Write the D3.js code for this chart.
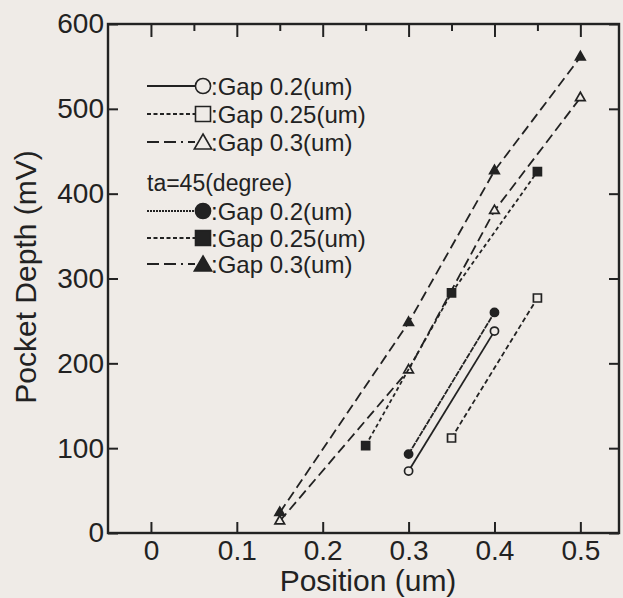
<!DOCTYPE html>
<html>
<head>
<meta charset="utf-8">
<script src="https://cdn.jsdelivr.net/npm/d3@7"></script>
<style>
  body { margin: 0; background: #efebe7; }
  svg { display: block; }
</style>
</head>
<body>
<div id="chart"></div>
<script>
// data
var xTicks = [0, 0.1, 0.2, 0.3, 0.4, 0.5];
var xMinorTicks = [0.05, 0.15, 0.25, 0.35, 0.45];
var yTicks = [0, 100, 200, 300, 400, 500, 600];

var legendLabels = [":Gap 0.2(um)", ":Gap 0.25(um)", ":Gap 0.3(um)"];
var legendTitle = "ta=45(degree)";

var gap02Pos = [0.3, 0.4],              gap02Depth = [73, 238];
var gap025Pos = [0.35, 0.45],           gap025Depth = [112, 277];
var gap03Pos = [0.15, 0.3, 0.4, 0.5],   gap03Depth = [14, 192, 380, 513];
var ta45Gap02Pos = [0.3, 0.4],          ta45Gap02Depth = [93, 260];
var ta45Gap025Pos = [0.25, 0.35, 0.45], ta45Gap025Depth = [103, 283, 426];
var ta45Gap03Pos = [0.15, 0.3, 0.4, 0.5], ta45Gap03Depth = [24, 248, 427, 561];

var width = 623, height = 598;
var ink = "#222", paper = "#efebe7";
var plotL = 108, plotR = 619, plotT = 24, plotB = 533;

var svg = d3.select("#chart").append("svg")
	.attr("width", width)
	.attr("height", height);

var x = d3.scaleLinear().domain([-0.05, 0.545]).range([plotL, plotR]);
var y = d3.scaleLinear().domain([0, 600]).range([plotB, plotT]);

var series = [
	{pos: gap02Pos, depth: gap02Depth, shape: d3.symbolCircle, filled: false, dash: null, legDash: null},
	{pos: gap025Pos, depth: gap025Depth, shape: d3.symbolSquare, filled: false, dash: "5,3", legDash: "4,2.5"},
	{pos: gap03Pos, depth: gap03Depth, shape: d3.symbolTriangle, filled: false, dash: "10,5", legDash: "12,5,12,5,2,5"},
	{pos: ta45Gap02Pos, depth: ta45Gap02Depth, shape: d3.symbolCircle, filled: true, dash: "6,1", legDash: "2,1"},
	{pos: ta45Gap025Pos, depth: ta45Gap025Depth, shape: d3.symbolSquare, filled: true, dash: "4,3", legDash: "4,2.5"},
	{pos: ta45Gap03Pos, depth: ta45Gap03Depth, shape: d3.symbolTriangle, filled: true, dash: "10,5", legDash: "12,5,12,5,2,5"}
];

var smallSize = {circle: 52, square: 64, triangle: 40};
var bigSize = {circle: 180, square: 225, triangle: 130};
function sizeOf(shape, table) {
	if (shape === d3.symbolCircle) return table.circle;
	if (shape === d3.symbolSquare) return table.square;
	return table.triangle;
}

// axes, ticks pointing inward
var fontFam = "'Liberation Sans', Arial, Helvetica, sans-serif";

var xAxis = svg.append("g")
	.attr("transform", "translate(0," + plotB + ")")
	.call(d3.axisBottom(x).tickValues(xTicks).tickSize(-11).tickPadding(27).tickFormat(d3.format("")));

var yAxis = svg.append("g")
	.attr("transform", "translate(" + plotL + ",0)")
	.call(d3.axisLeft(y).tickValues(yTicks).tickSize(-10).tickPadding(5));

svg.append("g")
	.attr("transform", "translate(" + plotR + ",0)")
	.call(d3.axisRight(y).tickValues(yTicks).tickSize(-10).tickFormat(""));

svg.append("g")
	.attr("transform", "translate(0," + plotT + ")")
	.call(d3.axisTop(x).tickValues(xTicks).tickSize(-13).tickFormat(""));

svg.append("g")
	.attr("transform", "translate(0," + plotT + ")")
	.call(d3.axisTop(x).tickValues(xMinorTicks).tickSize(-7).tickFormat(""));

svg.selectAll(".domain").remove();
svg.selectAll(".tick line").attr("stroke", ink).attr("stroke-width", 2);
svg.selectAll(".tick text")
	.attr("fill", ink)
	.style("font-family", fontFam)
	.style("font-size", "28px");
xAxis.selectAll(".tick text").attr("dy", "0");
yAxis.selectAll(".tick text").attr("x", -4);

svg.append("rect")
	.attr("x", plotL).attr("y", plotT)
	.attr("width", plotR - plotL).attr("height", plotB - plotT)
	.attr("fill", "none")
	.attr("stroke", ink)
	.attr("stroke-width", 2.4);

// axis titles
svg.append("text")
	.attr("x", 368).attr("y", 591)
	.attr("text-anchor", "middle")
	.attr("fill", ink)
	.style("font-family", fontFam)
	.style("font-size", "30px")
	.text("Position (um)");

svg.append("text")
	.attr("transform", "translate(36,277) rotate(-90)")
	.attr("text-anchor", "middle")
	.attr("fill", ink)
	.style("font-family", fontFam)
	.style("font-size", "30px")
	.text("Pocket Depth (mV)");

// lines and markers
var line = d3.line()
	.x(d => x(d[0]))
	.y(d => y(d[1]));

series.forEach(function(s) {
	var pts = s.pos.map((p, i) => [p, s.depth[i]]);

	svg.append("path")
		.datum(pts)
		.attr("d", line)
		.attr("fill", "none")
		.attr("stroke", ink)
		.attr("stroke-width", 1.8)
		.attr("stroke-dasharray", s.dash);

	svg.selectAll(null)
		.data(pts)
		.enter()
		.append("path")
		.attr("transform", d => "translate(" + x(d[0]) + "," + y(d[1]) + ")")
		.attr("d", d3.symbol().type(s.shape).size(sizeOf(s.shape, smallSize)))
		.attr("fill", s.filled ? ink : paper)
		.attr("stroke", ink)
		.attr("stroke-width", 1.7);
});

// legend
var legendRows = [86, 114, 142, 211, 238, 264];

series.forEach(function(s, i) {
	var ly = legendRows[i];
	var g = svg.append("g").attr("transform", "translate(0," + ly + ")");

	g.append("line")
		.attr("x1", 147).attr("x2", 195)
		.attr("y1", 0).attr("y2", 0)
		.attr("stroke", ink)
		.attr("stroke-width", 1.8)
		.attr("stroke-dasharray", s.legDash);

	g.append("path")
		.attr("transform", "translate(203," + (s.shape === d3.symbolTriangle ? 2 : 0) + ")")
		.attr("d", d3.symbol().type(s.shape).size(sizeOf(s.shape, bigSize)))
		.attr("fill", s.filled ? ink : paper)
		.attr("stroke", ink)
		.attr("stroke-width", 1.6);

	g.append("text")
		.attr("x", 211).attr("y", 0)
		.attr("dy", "0.36em")
		.attr("fill", ink)
		.style("font-family", fontFam)
		.style("font-size", "24px")
		.text(legendLabels[i % 3]);
});

svg.append("text")
	.attr("x", 147).attr("y", 191)
	.attr("fill", ink)
	.style("font-family", fontFam)
	.style("font-size", "23px")
	.text(legendTitle);
</script>
</body>
</html>
